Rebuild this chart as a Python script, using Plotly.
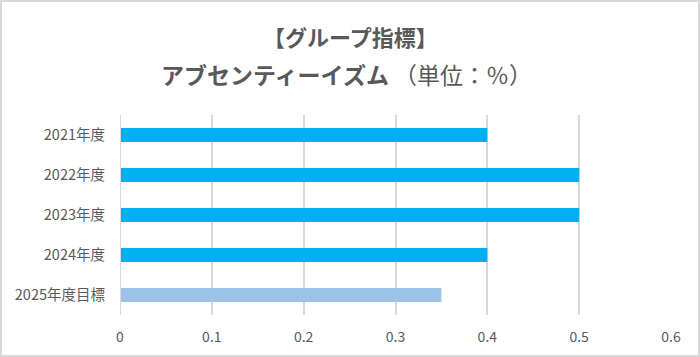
import plotly.graph_objects as go

categories = ["2021年度", "2022年度", "2023年度", "2024年度", "2025年度目標"]
values = [0.4, 0.5, 0.5, 0.4, 0.35]
bar_colors = ["#00B0F0", "#00B0F0", "#00B0F0", "#00B0F0", "#9DC3E6"]
x_ticks = [0, 0.1, 0.2, 0.3, 0.4, 0.5, 0.6]
x_tick_labels = ["0", "0.1", "0.2", "0.3", "0.4", "0.5", "0.6"]

W, H = 700, 357
L, R, T, B = 120, 29, 115, 42
pw, ph = W - L - R, H - T - B
font = "Noto Sans CJK JP, Noto Sans, sans-serif"

fig = go.Figure(go.Bar(
    x=values, y=categories, orientation="h",
    marker=dict(color=bar_colors, line=dict(width=0)),
    width=0.35,
))

fig.update_layout(
    width=W, height=H,
    margin=dict(l=L, r=R, t=T, b=B),
    paper_bgcolor="white", plot_bgcolor="white",
    showlegend=False,
    font=dict(family=font, color="#595959", size=14),
    xaxis=dict(range=[0, 0.6], tickvals=x_ticks, ticktext=x_tick_labels,
               showgrid=True, gridcolor="#D9D9D9", gridwidth=1.5,
               zeroline=False, showline=False, ticks="",
               ticklabelstandoff=12,
               tickfont=dict(size=14, color="#595959")),
    yaxis=dict(autorange="reversed", showgrid=False, zeroline=False,
               showline=False, ticks="", ticklabelstandoff=14,
               tickfont=dict(size=14.5, color="#595959")),
    shapes=[
        dict(type="line", xref="x", yref="paper", x0=0, x1=0, y0=0, y1=1,
             line=dict(color="#D9D9D9", width=2)),
        dict(type="rect", xref="paper", yref="paper",
             x0=(1 - L) / pw, x1=(W - 1 - L) / pw,
             y0=-(B - 1) / ph, y1=1 + (T - 1) / ph,
             line=dict(color="#D9D9D9", width=2)),
    ],
    annotations=[
        dict(text="<b>【グループ指標】</b>", xref="paper", yref="paper",
             x=(350 - L) / pw, y=1 + (T - 36) / ph, showarrow=False,
             xanchor="center", yanchor="middle",
             font=dict(size=22, color="#595959", family=font)),
        dict(text="<b>アブセンティーイズム</b> （単位：％）", xref="paper", yref="paper",
             x=(346 - L) / pw, y=1 + (T - 74) / ph, showarrow=False,
             xanchor="center", yanchor="middle",
             font=dict(size=23, color="#595959", family=font)),
    ],
)

fig.write_html("out.html", config={"displayModeBar": False},
               post_script="document.body.style.margin='0';")
